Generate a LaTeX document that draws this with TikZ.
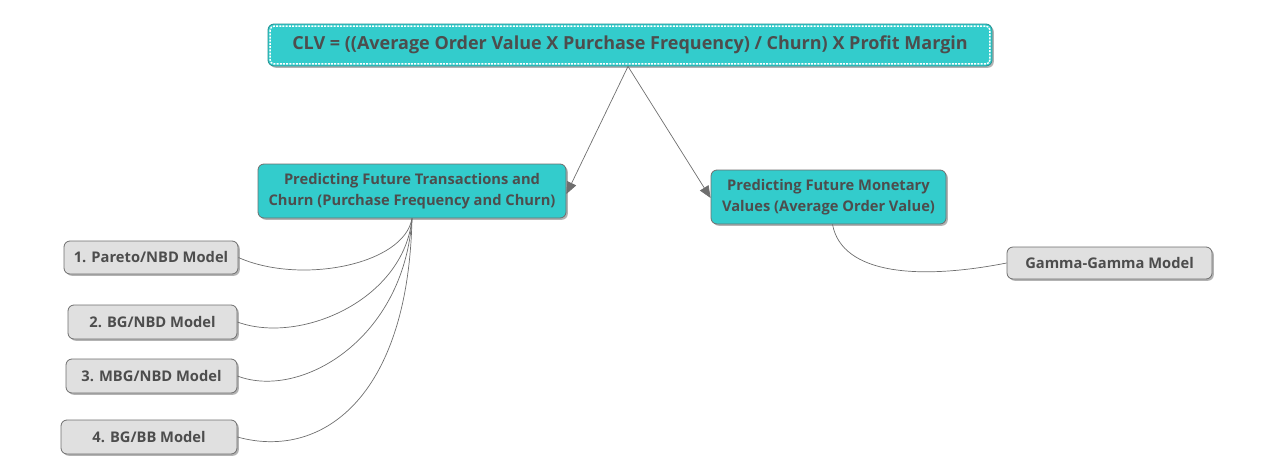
\documentclass[tikz,border=0pt]{standalone}
\usepackage{fontspec}
\setmainfont{Open Sans}
\usetikzlibrary{arrows.meta,shadows}
\definecolor{tealbox}{RGB}{51,204,204}
\definecolor{leafgray}{RGB}{224,224,224}
\definecolor{textgray}{RGB}{77,77,77}
\definecolor{linegray}{RGB}{110,110,110}
\begin{document}
\begin{tikzpicture}[x=1pt,y=-1pt,
    box/.style={rounded corners=6pt, draw=linegray, line width=0.8pt, text=textgray,
      font=\bfseries, align=center, inner sep=0pt,
      drop shadow={shadow xshift=1.8pt, shadow yshift=-1.8pt, opacity=0.6}},
    mainbox/.style={box, fill=tealbox, font=\fontsize{14.7}{20.5}\selectfont\bfseries},
    leafbox/.style={box, fill=leafgray, font=\fontsize{14.7}{16}\selectfont\bfseries},
    link/.style={draw=linegray, line width=0.7pt},
    arrowlink/.style={link, -{Triangle[length=12pt,width=10pt]}}]
    \useasboundingbox (0,0) rectangle (1276,471);
    \node[box, fill=tealbox, draw=tealbox!70!black, minimum width=724pt, minimum height=42pt,
      font=\fontsize{18}{20}\selectfont\bfseries] (clv) at (630,45)
      {CLV = ((Average Order Value X Purchase Frequency) / Churn) X Profit Margin};
    \draw[white, line width=1.4pt, dash pattern=on 2pt off 1.2pt, rounded corners=4pt]
      ([xshift=2.5pt,yshift=-2.5pt]clv.north west) rectangle ([xshift=-2.5pt,yshift=2.5pt]clv.south east);
    \node[mainbox, minimum width=308pt, minimum height=54pt] (trans) at (412,191)
      {Predicting Future Transactions and\\Churn (Purchase Frequency and Churn)};
    \node[mainbox, minimum width=235pt, minimum height=54pt] (money) at (828.5,197)
      {Predicting Future Monetary\\Values (Average Order Value)};
    \node[leafbox, minimum width=174pt, minimum height=33pt] (pareto) at (151,257.5) {1. Pareto/NBD Model};
    \node[leafbox, minimum width=169pt, minimum height=34pt] (bgnbd) at (152.5,322) {2. BG/NBD Model};
    \node[leafbox, minimum width=171pt, minimum height=34pt] (mbgnbd) at (151.5,376) {3. MBG/NBD Model};
    \node[leafbox, minimum width=176pt, minimum height=34pt] (bgbb) at (149,437) {4. BG/BB Model};
    \node[leafbox, minimum width=205pt, minimum height=32pt] (gamma) at (1109.5,263) {Gamma-Gamma Model};
    \draw[arrowlink] ([xshift=-2pt]clv.south) -- ([yshift=-3pt]trans.east);
    \draw[arrowlink] ([xshift=-2pt]clv.south) -- ([yshift=-1pt]money.west);
    \draw[link] (trans.south) .. controls (404,265) and (300,285) .. (pareto.east);
    \draw[link] (trans.south) .. controls (404,300) and (300,345) .. (bgnbd.east);
    \draw[link] (trans.south) .. controls (404,340) and (300,400) .. (mbgnbd.east);
    \draw[link] (trans.south) .. controls (408,400) and (320,460) .. (bgbb.east);
    \draw[link] ([xshift=4pt]money.south) .. controls (842,275) and (920,280) .. (gamma.west);
\end{tikzpicture}
\end{document}
